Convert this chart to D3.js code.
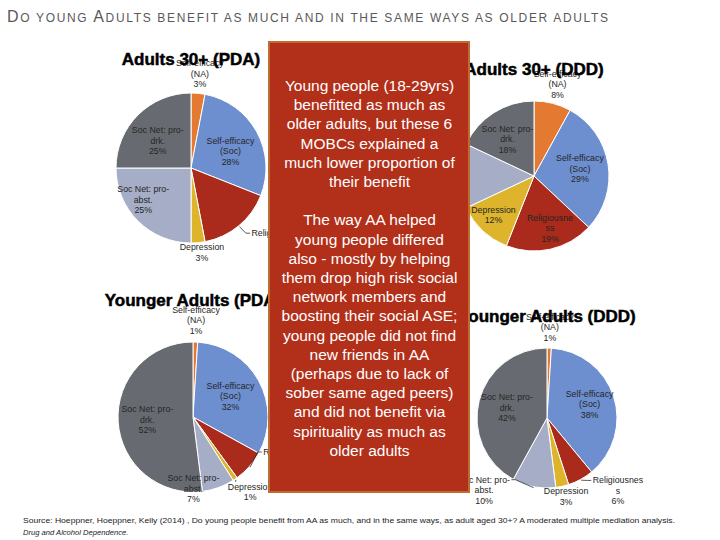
<!DOCTYPE html>
<html>
<head>
<meta charset="utf-8">
<script src="https://cdn.jsdelivr.net/npm/d3@7"></script>
<style>
  html, body { margin: 0; padding: 0; background: #fff; }
  svg { display: block; }
</style>
</head>
<body>
<svg id="chart" width="720" height="540"></svg>
<script>
// ---------------- DATA ----------------
const categories = ["Self-efficacy (NA)", "Self-efficacy (Soc)", "Religiousness", "Depression", "Soc Net: pro-abst.", "Soc Net: pro-drk."];
const categoryLines = [["Self-efficacy", "(NA)"], ["Self-efficacy", "(Soc)"], ["Religiousness"], ["Depression"], ["Soc Net: pro-", "abst."], ["Soc Net: pro-", "drk."]];
const chartTitles = ["Adults 30+ (PDA)", "Adults 30+ (DDD)", "Younger Adults (PDA)", "Younger Adults (DDD)"];
const adultsPDA = [3, 28, 16, 3, 25, 25];
const adultsDDD = [8, 29, 19, 12, 14, 18];
const youngerPDA = [1, 32, 7, 1, 7, 52];
const youngerDDD = [1, 38, 6, 3, 10, 42];
const seriesList = [adultsPDA, adultsDDD, youngerPDA, youngerDDD];

const headerParts = [["D", true], ["O YOUNG ", false], ["A", true], ["DULTS BENEFIT AS MUCH AND IN THE SAME WAYS AS OLDER ADULTS", false]];
const boxLines = ["Young people (18-29yrs)", "benefitted as much as", "older adults, but these 6", "MOBCs explained a", "much lower proportion of", "their benefit", "", "The way AA helped", "young people differed", "also - mostly by helping", "them drop high risk social", "network members and", "boosting their social ASE;", "young people did not find", "new friends in AA", "(perhaps due to lack of", "sober same aged peers)", "and did not benefit via", "spirituality as much as", "older adults"];
const sourceLine1 = "Source: Hoeppner, Hoeppner, Kelly (2014) , Do young people benefit from AA as much, and in the same ways, as adult aged 30+? A moderated multiple mediation analysis.";
const sourceLine2 = "Drug and Alcohol Dependence.";

// ---------------- LAYOUT / STYLE ----------------
const colors = ["#E47A32", "#6D8FCF", "#AA2A1B", "#DDB42C", "#A5AEC6", "#676B71"];
const layout = [
  { cx: 191, cy: 168, r: 75, titleY: 65,
    k: [1.26, 0.57, 1.18, 1.13, 0.77, 0.57],
    nudge: [[0,0],[2,4],[4,-3],[3,0],[-7,-9],[-3,3]],
    anchor: ["middle","middle","start","middle","middle","middle"],
    leader: [null,null,"left",null,null,null],
    inline: [2],
    wrap: {} },
  { cx: 534, cy: 176, r: 75, titleY: 75,
    k: [1.26, 0.62, 0.73, 0.75, 1.25, 0.61],
    nudge: [[0,0],[0,0],[4,-1],[-2,-2],[0,0],[-2,2]],
    anchor: ["middle","middle","middle","middle","middle","middle"],
    leader: [null,null,null,null,null,null],
    inline: [],
    wrap: { 2: ["Religiousne", "ss"] } },
  { cx: 193, cy: 417, r: 75, titleY: 306,
    k: [1.29, 0.57, 1.0, 1.26, 0.96, 0.61],
    nudge: [[0,0],[0,0],[14,-14.6],[4,-3],[-24,4],[0,0]],
    anchor: ["middle","middle","start","middle","middle","middle"],
    leader: [null,null,"left","top",null,null],
    inline: [2],
    wrap: {} },
  { cx: 547, cy: 418, r: 70, titleY: 322,
    k: [1.3, 0.64, 1.45, 1.15, 1.37, 0.59],
    nudge: [[0,0],[0,0],[22,-16],[1.5,0],[-45,-22],[0,0]],
    anchor: ["middle","middle","middle","middle","middle","middle"],
    leader: [null,null,"left","top","right",null],
    inline: [],
    wrap: { 2: ["Religiousnes", "s"] } }
];
const labelFont = 8.8, labelLH = 10.5;

const svg = d3.select("#chart");
const pct = d3.format(".0%");
const pie = d3.pie().sort(null).value(d => d);

// Header
const header = svg.append("text").attr("x", 7).attr("y", 22)
  .attr("font-family", "'Liberation Sans', Arial, sans-serif").attr("fill", "#595959")
  .attr("textLength", 601).attr("lengthAdjust", "spacing");
headerParts.forEach(([t, big]) => header.append("tspan").attr("font-size", big ? 16 : 12).text(t));

// Pies
seriesList.forEach((values, ci) => {
  const L = layout[ci];
  const total = d3.sum(values);
  const arcs = pie(values);
  const arc = d3.arc().innerRadius(0).outerRadius(L.r);
  const g = svg.append("g").attr("transform", `translate(${L.cx},${L.cy})`);

  g.selectAll("path.slice").data(arcs).join("path")
    .attr("class", "slice")
    .attr("d", arc)
    .attr("fill", (d, i) => colors[i])
    .attr("stroke", "#fff").attr("stroke-width", 1);

  arcs.forEach((d, i) => {
    const mid = (d.startAngle + d.endAngle) / 2;
    const lr = L.r * L.k[i];
    const x = lr * Math.sin(mid) + L.nudge[i][0];
    const y = -lr * Math.cos(mid) + L.nudge[i][1];
    const base = (L.wrap[i] || categoryLines[i]);
    const p = pct(d.data / total);
    const lines = L.inline.includes(i) ? [base.join(" ") + " " + p] : base.concat([p]);
    const n = lines.length;
    const t = g.append("text")
      .attr("font-family", "'Liberation Sans', Arial, sans-serif")
      .attr("font-size", labelFont).attr("fill", "#262626")
      .attr("text-anchor", L.anchor[i]);
    lines.forEach((s, j) => {
      t.append("tspan").attr("x", x).attr("y", y + (j - (n - 1) / 2) * labelLH + 3).text(s);
    });
    if (L.leader[i]) {
      const first = t.select("tspan").node();
      const w = first.getComputedTextLength();
      const fy = y - (n - 1) / 2 * labelLH + 3;
      const sx = (L.r + 1) * Math.sin(mid), sy = -(L.r + 1) * Math.cos(mid);
      let pts = null;
      if (L.leader[i] === "left") {
        const left = L.anchor[i] === "start" ? x : x - w / 2;
        const ex = left - 1.5, ey = fy - 3;
        pts = [[sx, sy], [ex - 4, ey], [ex, ey]];
      } else if (L.leader[i] === "right") {
        const right = L.anchor[i] === "start" ? x + w : x + w / 2;
        const ex = right + 1.5, ey = fy - 3;
        pts = [[sx, sy], [ex + 4, ey], [ex, ey]];
      } else if (L.leader[i] === "top") {
        const ey = fy - 8;
        if (ey > sy) pts = [[sx, sy], [sx, ey]];
      }
      if (pts) g.append("path").attr("d", d3.line()(pts)).attr("fill", "none")
        .attr("stroke", "#333").attr("stroke-width", 0.8);
    }
  });

  svg.append("text").attr("x", L.cx).attr("y", L.titleY)
    .attr("text-anchor", "middle")
    .attr("font-family", "'Liberation Sans', Arial, sans-serif")
    .attr("font-size", 17).attr("font-weight", "bold")
    .attr("fill", "#000").attr("stroke", "#000").attr("stroke-width", 0.5)
    .text(chartTitles[ci]);
});

// Overlay box
svg.append("rect").attr("x", 269).attr("y", 42).attr("width", 200).attr("height", 450)
  .attr("fill", "#B22F1A").attr("stroke", "#BE6B34").attr("stroke-width", 2);
const bt = svg.append("text").attr("text-anchor", "middle")
  .attr("font-family", "'Liberation Sans', Arial, sans-serif")
  .attr("font-size", 15.5).attr("fill", "#fff");
boxLines.forEach((s, j) => {
  bt.append("tspan").attr("x", 369.5).attr("y", 91 + j * 19.2).text(s);
});

// Source
svg.append("text").attr("x", 23).attr("y", 523)
  .attr("font-family", "'Liberation Sans', Arial, sans-serif").attr("font-size", 7.6)
  .attr("fill", "#222").attr("textLength", 652).attr("lengthAdjust", "spacingAndGlyphs")
  .text(sourceLine1);
svg.append("text").attr("x", 23).attr("y", 535)
  .attr("font-family", "'Liberation Sans', Arial, sans-serif").attr("font-size", 7.6)
  .attr("font-style", "italic").attr("fill", "#222")
  .text(sourceLine2);
</script>
</body>
</html>
